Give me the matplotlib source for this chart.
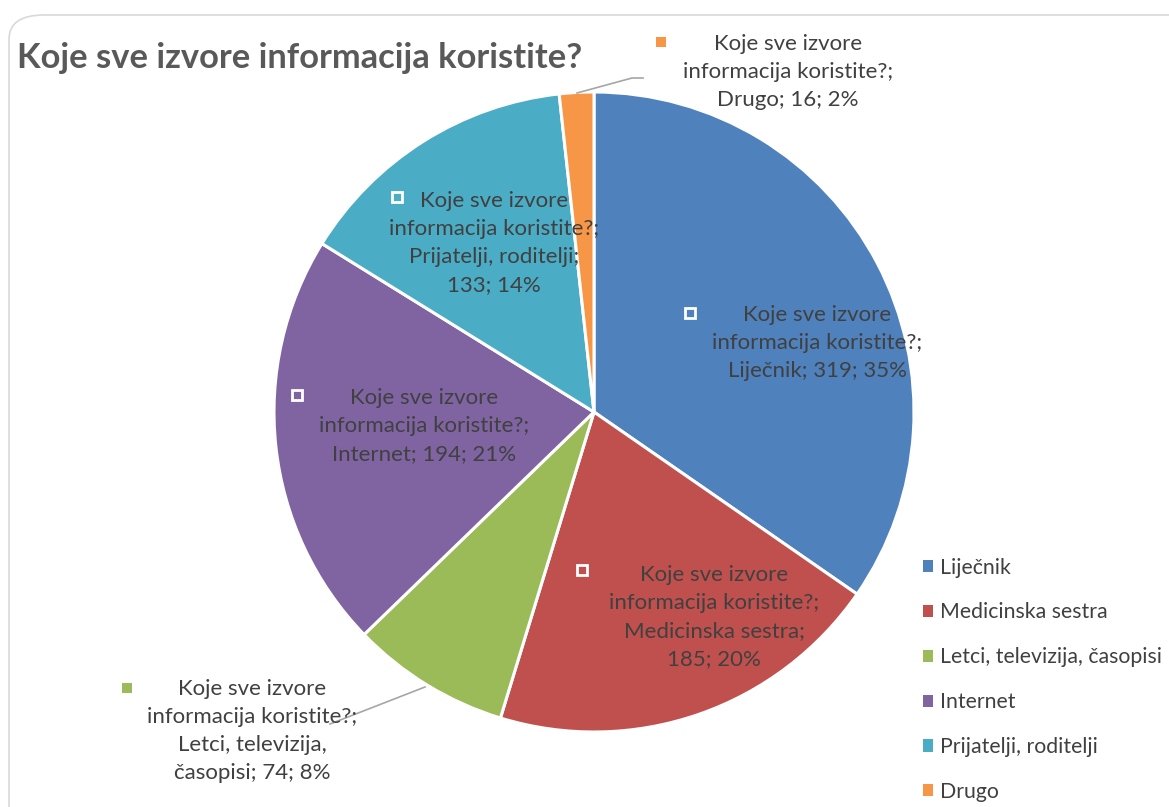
import textwrap
import matplotlib
matplotlib.use("Agg")
import matplotlib.pyplot as plt
from matplotlib.patches import FancyBboxPatch
from matplotlib.lines import Line2D

plt.rcParams['font.family'] = ['Lato', 'DejaVu Sans']

# data
question = "Koje sve izvore informacija koristite?"
categories = ["Liječnik", "Medicinska sestra", "Letci, televizija, časopisi",
              "Internet", "Prijatelji, roditelji", "Drugo"]
counts = [319, 185, 74, 194, 133, 16]
colors = ["#4F81BD", "#C0504D", "#9BBB59", "#8064A2", "#4BACC6", "#F79646"]

W, H = 1169, 807
TXT = "#404040"


def fx(px):
    return px / W


def fy(py):
    return 1 - py / H


fig = plt.figure(figsize=(W / 100, H / 100), dpi=100)

# rounded chart border
fig.add_artist(FancyBboxPatch((fx(9), fy(850)), fx(1200), 850 / H - 15 / H,
                              boxstyle="round,pad=0,rounding_size=0.03",
                              transform=fig.transFigure, fc="none",
                              ec="#d9d9d9", lw=1.2))

# pie axes: center (594, 412), radius 320 px
cx, cy, r = 594, 412, 320
ax = fig.add_axes([fx(cx - r), fy(cy + r), 2 * r / W, 2 * r / H])
wedges, _ = ax.pie(counts, colors=colors, startangle=90, counterclock=False,
                   radius=1, wedgeprops=dict(edgecolor="white", linewidth=2.2))
ax.set_xlim(-1, 1)
ax.set_ylim(-1, 1)
ax.set_aspect("equal")
ax.axis("off")

fig.text(fx(17), fy(58), question, fontsize=24.8, fontweight="bold",
         color="#595959", ha="left", va="center")

total = sum(counts)
# label centers and marker spots (pixels)
label_xy = [(817, 343), (714, 617), (252, 731), (424, 426), (494, 243), (788, 72)]
marker_xy = [(690, 313), (582, 570), (127, 688), (297, 395), (397, 197), (661, 42)]
inside = [True, True, False, True, True, False]

for i, cat in enumerate(categories):
    pct = round(counts[i] / total * 100)
    tail = "\n".join(textwrap.wrap(f"{cat}; {counts[i]}; {pct}%", 22))
    label = "Koje sve izvore\ninformacija koristite?;\n" + tail
    fig.text(fx(label_xy[i][0]), fy(label_xy[i][1]), label, fontsize=16,
             color=TXT, ha="center", va="center", linespacing=1.5)
    mx, my = marker_xy[i]
    if inside[i]:
        m = Line2D([fx(mx)], [fy(my)], marker="s", markersize=7,
                   markerfacecolor=colors[i], markeredgecolor="white",
                   markeredgewidth=2, transform=fig.transFigure)
    else:
        m = Line2D([fx(mx)], [fy(my)], marker="s", markersize=7,
                   markerfacecolor=colors[i], markeredgecolor=colors[i],
                   markeredgewidth=0, transform=fig.transFigure)
    fig.add_artist(m)

# leader lines for the outside labels
fig.add_artist(Line2D([fx(577), fx(632), fx(643)], [fy(93), fy(78), fy(78)],
                      color="#a6a6a6", lw=1.2, transform=fig.transFigure))
fig.add_artist(Line2D([fx(425), fx(330)], [fy(687), fy(724)],
                      color="#a6a6a6", lw=1.2, transform=fig.transFigure))

leg = fig.legend(wedges, categories, loc="upper left",
                 bbox_to_anchor=(fx(912), fy(547)), frameon=False,
                 fontsize=15.3, handlelength=0.5, handleheight=0.5,
                 handletextpad=0.3, labelspacing=1.17, borderpad=0)
for t in leg.get_texts():
    t.set_color(TXT)
for h in leg.legend_handles:
    h.set_edgecolor("none")

fig.savefig("out.png", dpi=100)
